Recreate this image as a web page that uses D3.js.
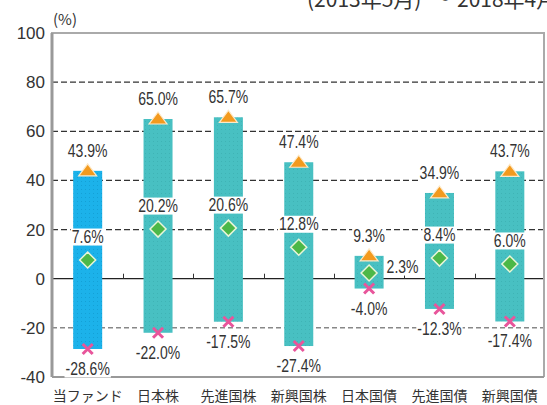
<!DOCTYPE html>
<html><head><meta charset="utf-8">
<script src="https://cdn.jsdelivr.net/npm/d3@7"></script>
<style>
html,body{margin:0;padding:0;background:#fff;}
svg{display:block;}
</style></head>
<body>
<svg id="c" width="547" height="405"></svg>
<script>
const categories = ["当ファンド","日本株","先進国株","新興国株","日本国債","先進国債","新興国債"];
const maxValues  = [43.9, 65.0, 65.7, 47.4, 9.3, 34.9, 43.7];
const meanValues = [7.6, 20.2, 20.6, 12.8, 2.3, 8.4, 6.0];
const minValues  = [-28.6, -22.0, -17.5, -27.4, -4.0, -12.3, -17.4];
const yTicks = [100, 80, 60, 40, 20, 0, -20, -40];
const periodParts = ["(2013年5月)", "～", "2018年4月"];

const svg = d3.select("#c");
const numFont = "'Liberation Sans',Arial,sans-serif";
const x = d3.scaleBand().domain(categories).range([52.5, 545]);
const y = d3.scaleLinear().domain([-40, 100]).range([377, 33]);
const bw = 29;

const defs = svg.append("defs");
function dotPattern(id, base, dot){
  const p = defs.append("pattern").attr("id", id).attr("width", 4).attr("height", 4).attr("patternUnits","userSpaceOnUse");
  p.append("rect").attr("width",4).attr("height",4).attr("fill",base);
  p.append("rect").attr("x",1).attr("y",1).attr("width",1).attr("height",1).attr("fill",dot);
}
dotPattern("pFund", "#1cb2ea", "#14a0d6");
dotPattern("pAsset", "#48c0c2", "#3fb3b5");

// title (cut off at top, as in the reference)
const tf = "'Noto Sans CJK JP',sans-serif";
svg.append("text").attr("x", 307).attr("y", 7).attr("font-family",tf).attr("font-size", 21).attr("fill","#333").text(periodParts[0]);
svg.append("text").attr("x", 441).attr("y", 5).attr("text-anchor","middle").attr("font-family",tf).attr("font-size", 21).attr("fill","#333").text(periodParts[1]);
svg.append("text").attr("x", 457).attr("y", 7).attr("font-family",tf).attr("font-size", 21).attr("fill","#333").text(periodParts[2]);

// gridlines
[20,40,60,80].forEach(v=>{
  svg.append("line").attr("x1",52).attr("x2",544).attr("y1",y(v)).attr("y2",y(v))
    .attr("stroke","#333").attr("stroke-width",1.2).attr("stroke-dasharray","6,3");
});
svg.append("line").attr("x1",52).attr("x2",544).attr("y1",y(-20)).attr("y2",y(-20))
  .attr("stroke","#888").attr("stroke-width",1.5).attr("stroke-dasharray","5,3");

// zero line and ticks
svg.append("line").attr("x1",52).attr("x2",544).attr("y1",y(0)).attr("y2",y(0))
  .attr("stroke","#222").attr("stroke-width",1.2);
categories.slice(1).forEach(c=>{
  const xx = Math.round(x(c))+0.5;
  svg.append("line").attr("x1",xx).attr("x2",xx).attr("y1",y(0)).attr("y2",y(0)-5)
    .attr("stroke","#333").attr("stroke-width",1);
});

// frame
svg.append("path").attr("d",`M${52},${y(-40)} V${y(100)} H544 V${y(-40)}`)
  .attr("fill","none").attr("stroke","#aaa").attr("stroke-width",2);
svg.append("line").attr("x1",52).attr("x2",544).attr("y1",y(-40)).attr("y2",y(-40))
  .attr("stroke","#999").attr("stroke-width",2);
svg.append("line").attr("x1",52).attr("x2",52).attr("y1",y(100)).attr("y2",y(-40))
  .attr("stroke","#999").attr("stroke-width",3);

// y labels
yTicks.forEach(v=>{
  svg.append("text").attr("x",45).attr("y",y(v)+6).attr("text-anchor","end")
    .attr("font-family","'Liberation Sans',Arial,sans-serif").attr("font-size",17).attr("fill","#333")
    .text(v);
});
svg.append("text").attr("x",53).attr("y",25).attr("font-family",tf)
  .attr("font-size",15).attr("fill","#333").text("(%)");

// bars
categories.forEach((c,i)=>{
  const cx = x(c)+x.bandwidth()/2;
  svg.append("rect").attr("x",cx-bw/2).attr("y",y(maxValues[i])).attr("width",bw)
    .attr("height",y(minValues[i])-y(maxValues[i]))
    .attr("fill", i===0 ? "url(#pFund)" : "url(#pAsset)");
});

function label(txt, cx, cy, anchor){
  const g = svg.append("g");
  const t = g.append("text").attr("y",cy+6).attr("text-anchor","start")
    .attr("font-family",numFont).attr("font-size",17.5).attr("fill","#333").text(txt);
  const w0 = t.node().getComputedTextLength();
  const w = w0*0.8;
  t.attr("textLength", w).attr("lengthAdjust","spacingAndGlyphs");
  const x0 = (anchor === "start") ? cx : cx - w/2;
  t.attr("x", x0);
  g.insert("rect","text").attr("x",x0-1).attr("y",cy-8.5).attr("width",w+2).attr("height",17).attr("fill","#fff");
}

categories.forEach((c,i)=>{
  const cx = x(c)+x.bandwidth()/2;
  label(maxValues[i].toFixed(1)+"%", cx, y(maxValues[i])-20);
  if (c === "日本国債") {
    label(meanValues[i].toFixed(1)+"%", cx+bw/2+3, y(meanValues[i])-6, "start");
  } else {
    label(meanValues[i].toFixed(1)+"%", cx, y(meanValues[i])-23);
  }
  label(minValues[i].toFixed(1)+"%", cx, y(minValues[i])+20);
});

categories.forEach((c,i)=>{
  const cx = x(c)+x.bandwidth()/2;
  const ty = y(maxValues[i]);
  svg.append("path").attr("d",`M${cx},${ty-7} L${cx+9},${ty+5} L${cx-9},${ty+5} Z`)
    .attr("fill","#f39a1e").attr("stroke","#fde9c8").attr("stroke-width",1.2);
  const dy = y(meanValues[i]);
  svg.append("path").attr("d",`M${cx},${dy-8} L${cx+8},${dy} L${cx},${dy+8} L${cx-8},${dy} Z`)
    .attr("fill","#4cb848").attr("stroke","#e9f5d8").attr("stroke-width",1.5);
  const my = y(minValues[i]);
  svg.append("path").attr("d",`M${cx-5},${my-5} L${cx+5},${my+5} M${cx+5},${my-5} L${cx-5},${my+5}`)
    .attr("stroke","#e8559b").attr("stroke-width",3).attr("stroke-linecap","butt");
});

// category labels
categories.forEach(c=>{
  svg.append("text").attr("x",x(c)+x.bandwidth()/2).attr("y",401).attr("text-anchor","middle")
    .attr("font-family",tf).attr("font-size",14).attr("fill","#333")
    .text(c);
});
</script>
</body></html>
